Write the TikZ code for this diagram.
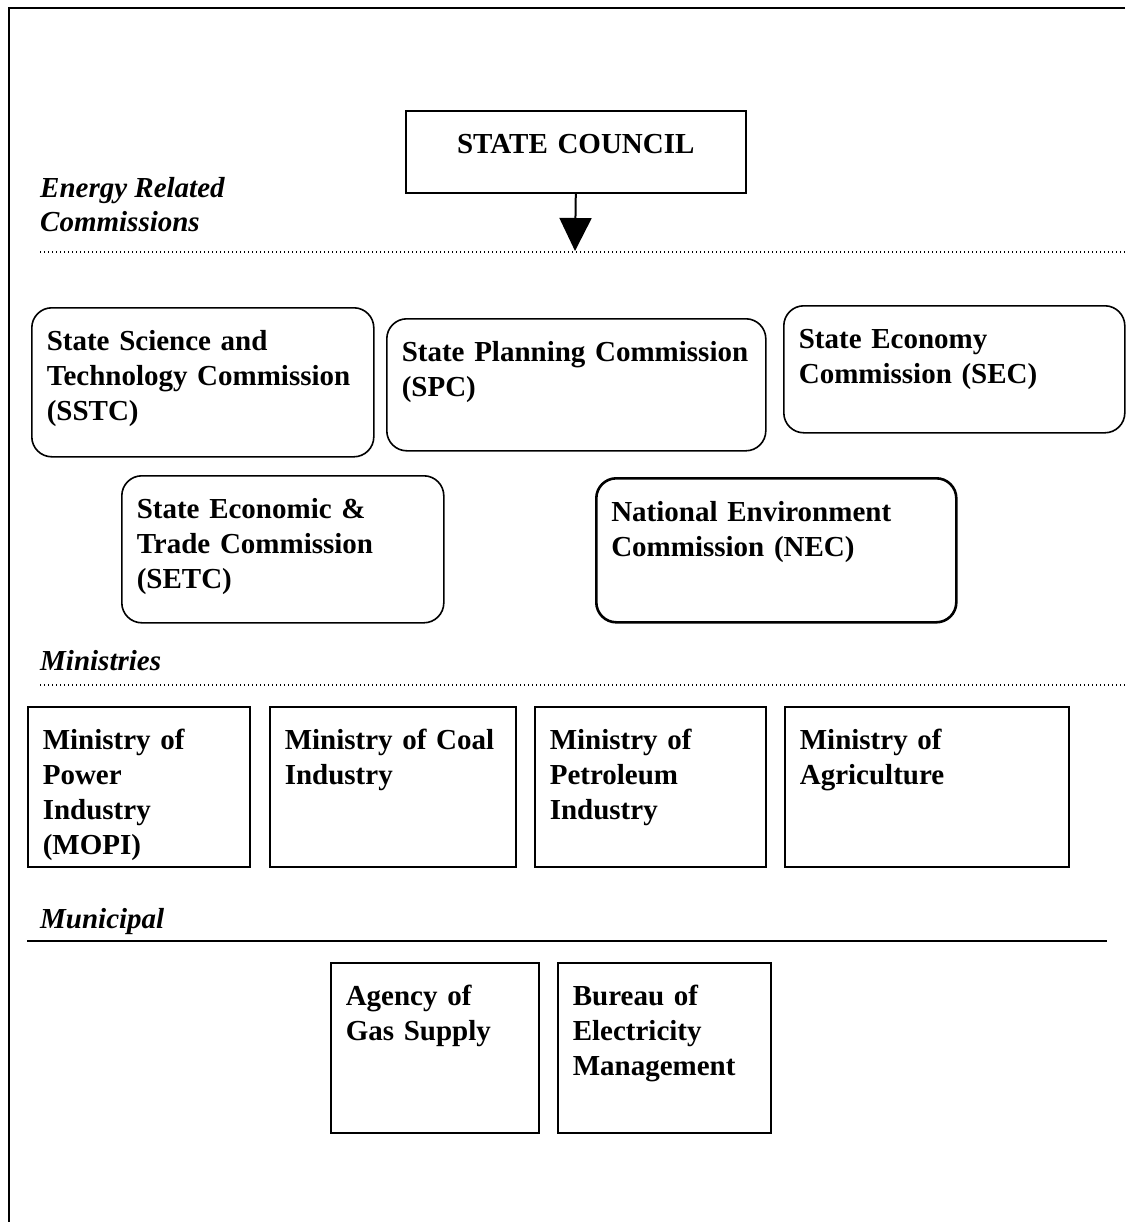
\documentclass[tikz,border=0pt]{standalone}
\usepackage{fontspec}
\setmainfont{Liberation Serif}
\usetikzlibrary{arrows.meta}

\begin{document}
\begin{tikzpicture}[x=1pt, y=-1pt,
  box/.style = {draw, line width=1.6pt, anchor=north west, align=left, inner xsep=15pt, inner ysep=0pt, text height=43pt, font=\fontsize{29}{35}\selectfont\bfseries},
  comm/.style = {box, rounded corners=20pt},
  mini/.style = {box, text depth=117pt},
  muni/.style = {box, text depth=127pt},
  head/.style = {anchor=north west, align=left, inner sep=0pt, text height=21pt, font=\fontsize{29}{34}\selectfont\bfseries\itshape},
  sep/.style = {line width=1.2pt, dash pattern=on 1.4pt off 2.6pt}]
\useasboundingbox (0,0) rectangle (1125,1222);
\draw[line width=2pt] (1125,8) -- (9,8) -- (9,1222);

% top
\node[box, align=center, text width=310pt, text depth=39pt] (council) at (405,110) {STATE COUNCIL};
\coordinate (tip) at (575,251);
\draw[line width=2pt, -{Triangle[width=32pt,length=33pt]}] (council.south) -- (tip);

% commissions
\node[head, text height=55pt] (energy) at (40,176) {Energy Related\\Commissions};
\draw[sep] (40,252) -- (1125,252);
\node[comm, text width=312pt, text depth=106pt] (sstc) at (31,307) {State Science and\\Technology Commission\\(SSTC)};
\node[comm, text width=349pt, text depth=89pt] (spc) at (386,318) {State Planning Commission\\(SPC)};
\node[comm, text width=311pt, text depth=84pt] (sec) at (783,305) {State Economy\\Commission (SEC)};
\node[comm, text width=292pt, text depth=104pt] (setc) at (121,475) {State Economic \&\\Trade Commission\\(SETC)};
\node[comm, line width=2.6pt, text width=330pt, text depth=101pt] (nec) at (595,477) {National Environment\\Commission (NEC)};

% ministries
\node[head] (ministries) at (40,649) {Ministries};
\draw[sep] (40,685) -- (1125,685);
\node[mini, text width=192pt] (mopi) at (27,706) {Ministry of\\Power\\Industry\\(MOPI)};
\node[mini, text width=216pt] (coal) at (269,706) {Ministry of Coal\\Industry};
\node[mini, text width=201pt] (petro) at (534,706) {Ministry of\\Petroleum\\Industry};
\node[mini, text width=254pt] (agri) at (784,706) {Ministry of\\Agriculture};

% municipal
\node[head] (municipal) at (40,907) {Municipal};
\draw[line width=2pt] (27,941) -- (1107,941);
\node[muni, text width=178pt] (gas) at (330,962) {Agency of\\Gas Supply};
\node[muni, text width=183pt] (elec) at (557,962) {Bureau of\\Electricity\\Management};
\end{tikzpicture}
\end{document}
